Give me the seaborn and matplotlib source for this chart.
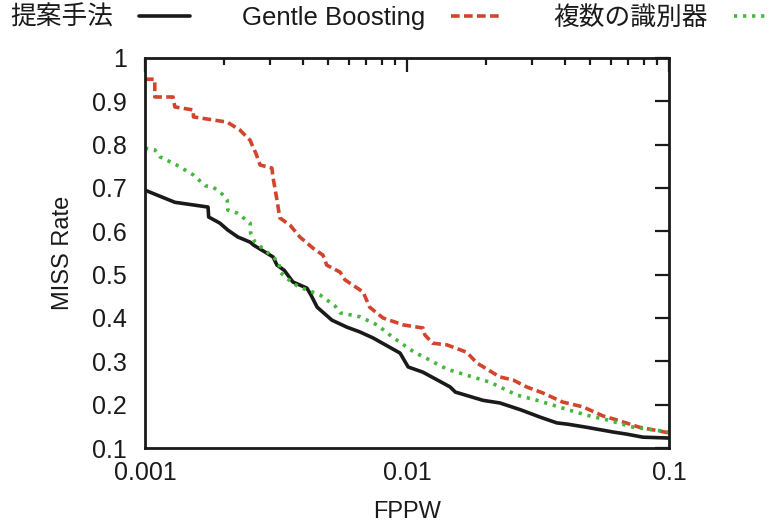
import numpy as np
import pandas as pd
import matplotlib
matplotlib.use('Agg')
import matplotlib.pyplot as plt
import seaborn as sns
from matplotlib.ticker import LogLocator, FixedLocator, FuncFormatter

sns.set_theme(style='white')
plt.rcParams['font.family'] = ['Liberation Sans', 'Noto Sans CJK JP', 'DejaVu Sans']

# proposed method (black solid)
prop_x = [0.001, 0.0013, 0.00174, 0.00175, 0.00193, 0.00207, 0.00226, 0.00252, 0.0026,
          0.00308, 0.00319, 0.0034, 0.00367, 0.00415, 0.0043, 0.00454, 0.00517, 0.00589,
          0.0066, 0.00742, 0.00941, 0.0101, 0.0115, 0.0146, 0.0153, 0.0195, 0.0226,
          0.0272, 0.0323, 0.0373, 0.041, 0.0483, 0.061, 0.069, 0.0795, 0.1]
prop_y = [0.695, 0.667, 0.656, 0.633, 0.619, 0.603, 0.587, 0.575, 0.568,
          0.541, 0.522, 0.51, 0.483, 0.469, 0.453, 0.425, 0.395, 0.379,
          0.368, 0.354, 0.319, 0.287, 0.275, 0.241, 0.229, 0.21, 0.204,
          0.188, 0.171, 0.158, 0.155, 0.148, 0.137, 0.132, 0.125, 0.123]

# Gentle Boosting (red dashed)
gb_x = [0.001, 0.00109, 0.00109, 0.00128, 0.0013, 0.00153, 0.00153, 0.00206, 0.0023,
        0.00252, 0.00258, 0.00265, 0.00275, 0.00305, 0.00308, 0.00319, 0.00327, 0.00358,
        0.0039, 0.00438, 0.00478, 0.00494, 0.00555, 0.0058, 0.0068, 0.0072, 0.0081,
        0.0097, 0.0115, 0.0117, 0.0125, 0.0142, 0.0169, 0.0185, 0.0226, 0.0254,
        0.0286, 0.033, 0.0393, 0.0469, 0.056, 0.063, 0.077, 0.1]
gb_y = [0.951, 0.951, 0.91, 0.91, 0.887, 0.88, 0.864, 0.852, 0.834,
        0.81, 0.795, 0.78, 0.753, 0.746, 0.725, 0.672, 0.631, 0.614,
        0.587, 0.561, 0.545, 0.522, 0.506, 0.488, 0.46, 0.425, 0.4,
        0.384, 0.377, 0.361, 0.342, 0.338, 0.321, 0.296, 0.264, 0.257,
        0.241, 0.227, 0.206, 0.195, 0.174, 0.165, 0.148, 0.135]

# multiple classifiers (green dotted)
mc_x = [0.001, 0.00109, 0.00114, 0.00132, 0.00153, 0.0017, 0.00182, 0.00197, 0.00206,
        0.00207, 0.00225, 0.00252, 0.00253, 0.00263, 0.00308, 0.00325, 0.00327, 0.00367,
        0.0039, 0.00466, 0.00531, 0.00555, 0.0066, 0.0077, 0.0088, 0.0106, 0.0122,
        0.0142, 0.0169, 0.0207, 0.0263, 0.0314, 0.0393, 0.0483, 0.058, 0.073, 0.1]
mc_y = [0.792, 0.788, 0.772, 0.753, 0.73, 0.705, 0.702, 0.686, 0.672,
        0.649, 0.642, 0.619, 0.596, 0.575, 0.541, 0.527, 0.506, 0.48,
        0.471, 0.453, 0.428, 0.412, 0.403, 0.384, 0.356, 0.322, 0.303,
        0.282, 0.268, 0.252, 0.222, 0.21, 0.192, 0.176, 0.165, 0.148, 0.137]

labels = ['提案手法', 'Gentle Boosting', '複数の識別器']
colors = ['#1a1a1a', '#d2452c', '#45b83b']
dash_styles = [None, (2.4, 1.2), (0.9, 1.6)]
y_ticks = [0.1, 0.2, 0.3, 0.4, 0.5, 0.6, 0.7, 0.8, 0.9, 1.0]
x_ticks = [0.001, 0.01, 0.1]

fig = plt.figure(figsize=(7.68, 5.29), dpi=100)
ax = fig.add_axes([0.1888, 0.1531, 0.6823, 0.7373])

series = [(prop_x, prop_y), (gb_x, gb_y), (mc_x, mc_y)]
for (xs, ys), lab, c, dsh in zip(series, labels, colors, dash_styles):
    df = pd.DataFrame({'x': xs, 'y': ys})
    sns.lineplot(data=df, x='x', y='y', ax=ax, color=c, label=lab,
                 estimator=None, sort=False, linewidth=2.6)
    if dsh is not None:
        ax.lines[-1].set_dashes(dsh)

ax.set_xscale('log')
ax.set_xlim(0.001, 0.1)
ax.set_ylim(0.1, 1.0)
ax.xaxis.set_major_locator(FixedLocator(x_ticks))
ax.xaxis.set_major_formatter(FuncFormatter(lambda v, p: f'{v:g}'))
ax.xaxis.set_minor_locator(LogLocator(base=10, subs=np.arange(2, 10)))
ax.yaxis.set_major_locator(FixedLocator(y_ticks))
ax.yaxis.set_major_formatter(FuncFormatter(lambda v, p: f'{v:g}'))

ax.tick_params(which='both', direction='in', top=True, right=True, labelsize=18,
               color='#1a1a1a', width=1.6, labelcolor='#1a1a1a')
ax.tick_params(axis='x', which='major', length=10, pad=9)
ax.tick_params(axis='y', which='major', length=10, pad=13)
ax.tick_params(which='minor', length=5)
for s in ax.spines.values():
    s.set_color('#1a1a1a')
    s.set_linewidth(2)
ax.grid(False)

ax.set_xlabel('FPPW', fontsize=17, labelpad=12, color='#1a1a1a')
ax.set_ylabel('MISS Rate', fontsize=17, labelpad=13, color='#1a1a1a')

leg = ax.legend(loc='upper left', bbox_to_anchor=(0.006, 1.0), bbox_transform=fig.transFigure,
                ncol=3, frameon=False, markerfirst=False, fontsize=18.5,
                handlelength=2.0, columnspacing=2.0, handletextpad=1.0,
                borderaxespad=0.0, borderpad=0.22)
for t in leg.get_texts():
    t.set_color('#1a1a1a')
for ln, dsh in zip(leg.get_lines(), dash_styles):
    if dsh is not None:
        ln.set_dashes(dsh)

fig.savefig('out.png', dpi=100)
